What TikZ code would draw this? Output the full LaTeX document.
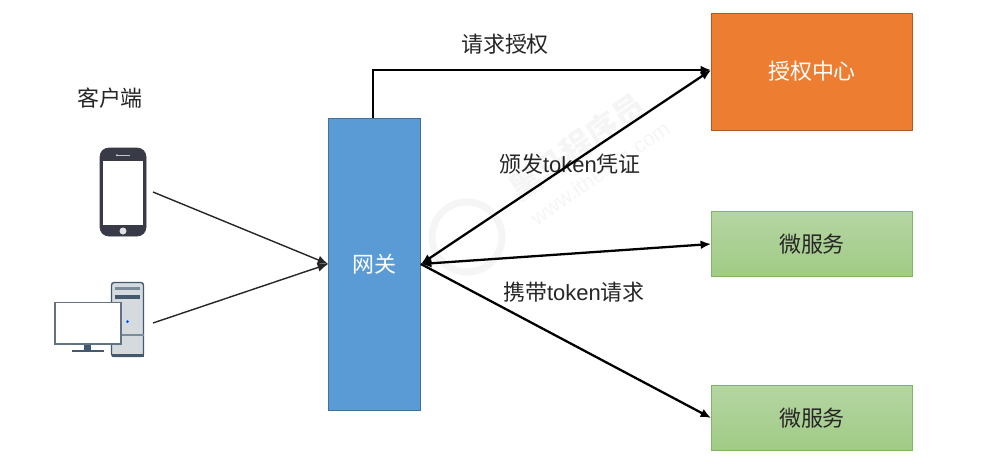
\documentclass[tikz,border=0pt]{standalone}
\usepackage{fontspec}
\setmainfont{Liberation Sans}
\newfontfamily\cjk{Noto Sans CJK SC}
\usetikzlibrary{arrows.meta}
\definecolor{gatefill}{HTML}{5B9BD5}
\definecolor{gateline}{HTML}{41719C}
\definecolor{authfill}{HTML}{ED7D31}
\definecolor{authline}{HTML}{AE5A21}
\definecolor{svctop}{HTML}{B5D5A3}
\definecolor{svcbot}{HTML}{A0CB85}
\definecolor{svcline}{HTML}{7FB662}
\definecolor{phonecol}{HTML}{383A47}
\definecolor{pccol}{HTML}{44596E}
\definecolor{pcbody}{HTML}{D5DADF}
\definecolor{markcol}{HTML}{F5F5F5}
\newcommand{\pxu}{*0.02cm}
\tikzset{
    BOX/.style ={rectangle,draw,inner sep=0pt,text=white,font=\cjk\fontsize{12.5}{15}\selectfont},
    GATE/.style ={BOX,fill=gatefill,draw=gateline,minimum width = 92\pxu, minimum height = 292\pxu},
    AUTH/.style ={BOX,fill=authfill,draw=authline,minimum width = 201\pxu, minimum height = 117\pxu},
    SVC/.style ={BOX,text=black!85,top color=svctop,bottom color=svcbot,draw=svcline,minimum width = 201\pxu, minimum height = 65\pxu},
    LAB/.style ={inner sep=0pt,text=black!85,font=\cjk\fontsize{12.5}{15}\selectfont},
    THIN/.style ={-{Latex[length=6pt,width=5pt]},line width=0.8pt,black!85!white},
    THICK/.style ={-{Latex[length=6pt,width=5pt]},line width=1.3pt,black},
    BOTH/.style ={{Latex[length=6pt,width=5pt]}-{Latex[length=6pt,width=5pt]},line width=1.3pt,black},
    MARK/.style ={inner sep=0pt,text=markcol,rotate=35}}
\begin{document}
\begin{tikzpicture}[x=0.02cm,y=-0.02cm]
        \useasboundingbox (0,0) rectangle (1002,471);
        % watermark
        \node[MARK,font=\cjk\bfseries\fontsize{18}{20}\selectfont] (brand) at(577,147){黑马程序员};
        \node[MARK,font=\fontsize{12}{14}\selectfont] (site) at(600,173){www.itheima.com};
        \draw[markcol,line width=4pt] (467,237) circle (35);
        % boxes
        \node[GATE] (gate) at(374.5,264){网关};
        \node[AUTH] (auth) at(812,71.5){授权中心};
        \node[SVC] (svc1) at(812,244){微服务};
        \node[SVC] (svc2) at(812,418){微服务};
        % labels
        \node[LAB] (client) at(110,98){客户端};
        \node[LAB] (ask) at(505,44){请求授权};
        \node[LAB] (issue) at(570,164){颁发{\rmfamily token}凭证};
        \node[LAB] (carry) at(574,292){携带{\rmfamily token}请求};
        % phone
        \draw[phonecol,fill=phonecol,rounded corners=5] (100,148) rectangle (146,236);
        \fill[white] (103,161) rectangle (143,225);
        \fill[white!70!phonecol] (116,154.5) rectangle (130,156);
        \fill[white!70!phonecol] (117,155.2) circle (1.2);
        \fill[white!85!phonecol] (123,231) circle (3.5);
        % computer
        \draw[pccol,fill=pcbody,line width=0.8pt,rounded corners=1.5] (111.5,282.5) rectangle (143.5,356.5);
        \fill[pccol!70] (115,287) rectangle (140,289.5);
        \fill[pccol] (115,295) rectangle (140,299);
        \fill[blue!70!cyan] (127.5,321.5) circle (1.5);
        \draw[pccol!70,line width=0.6pt] (111.5,335) -- (143.5,335);
        \fill[pccol] (111.5,354) rectangle (143.5,357);
        \fill[pccol] (84,344) rectangle (91,350);
        \fill[pccol] (72,349.5) rectangle (104,352);
        \draw[pccol!85,fill=white,line width=0.9pt] (55,302.5) rectangle (121,344);
        % connectors
        \coordinate (phoneout) at(153,192);
        \coordinate (pcout) at(153,323);
        \draw[THIN] (phoneout) -- (gate.west);
        \draw[THIN] (pcout) -- (gate.west);
        \draw[THICK] ([xshift=-0.03cm]gate.north) |- ([yshift=0.03cm]auth.west);
        \draw[BOTH] (gate.east) -- ([yshift=0.03cm]auth.west);
        \draw[BOTH] (gate.east) -- (svc1.west);
        \draw[THICK] (gate.east) -- (svc2.west);
    \end{tikzpicture}
\end{document}
